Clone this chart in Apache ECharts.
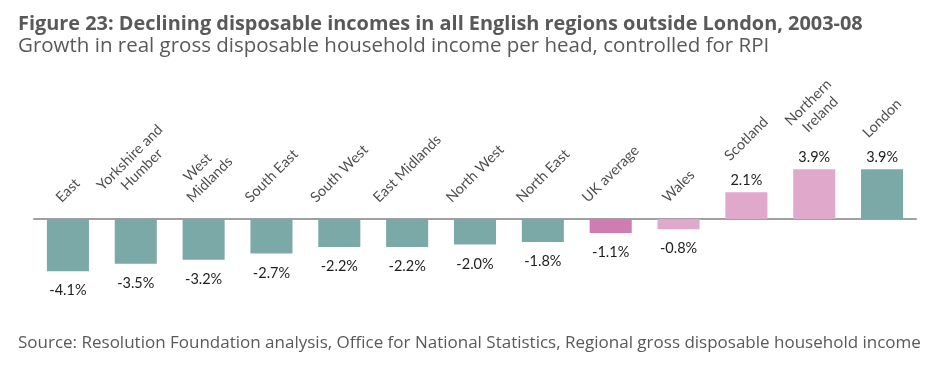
<!DOCTYPE html>
<html>
<head>
<meta charset="utf-8">
<script src="https://cdn.jsdelivr.net/npm/echarts@6/dist/echarts.min.js"></script>
<style>
  html, body { margin: 0; padding: 0; background: #ffffff; }
  #chart { width: 948px; height: 384px; }
</style>
</head>
<body>
<div id="chart"></div>
<script>
// ---- Data ----
const titleText = 'Figure 23: Declining disposable incomes in all English regions outside London, 2003-08';
const subtitleText = 'Growth in real gross disposable household income per head, controlled for RPI';
const sourceText = 'Source: Resolution Foundation analysis, Office for National Statistics, Regional gross disposable household income';

const categories = ['East', 'Yorkshire and\nHumber', 'West\nMidlands', 'South East', 'South West', 'East Midlands',
  'North West', 'North East', 'UK average', 'Wales', 'Scotland', 'Northern\nIreland', 'London'];
const growth = [-4.1, -3.5, -3.2, -2.7, -2.2, -2.2, -2.0, -1.8, -1.1, -0.8, 2.1, 3.9, 3.9];
const groups = ['England', 'England', 'England', 'England', 'England', 'England', 'England', 'England',
  'UK', 'Devolved', 'Devolved', 'Devolved', 'England'];

// ---- Styles ----
const groupColors = { England: '#7ba9a8', UK: '#d07bb1', Devolved: '#e0a9cb' };
const labelFont = 'Lato';
const labelSize = 14.5;
const labelLineHeight = 17;
const textDark = '#1e1e1e';
const textGrey = '#595959';
const headFont = 'Open Sans';

function rotatedHalfHeight(text) {
  const t = new echarts.graphic.Text({ style: { text: text, font: labelSize + 'px ' + labelFont, lineHeight: labelLineHeight } });
  const r = t.getBoundingRect();
  return (r.width + r.height) / (2 * Math.SQRT2);
}

const chart = echarts.init(document.getElementById('chart'), null, { renderer: 'canvas' });

const barData = growth.map((v, i) => ({
  value: v,
  itemStyle: { color: groupColors[groups[i]] },
  label: v < 0 ? { position: 'bottom', distance: 12 } : { position: 'top', distance: 4 }
}));

const nameData = growth.map((v, i) => ({
  value: Math.max(0, v),
  label: { position: [0.5, 0.5 - ((v < 0 ? 13 : 28) + rotatedHalfHeight(categories[i]))] }
}));

chart.setOption({
  animation: false,
  title: [
    { text: titleText, left: 13, top: 8,
      textStyle: { fontFamily: headFont, fontWeight: 'bold', fontSize: 19.9, color: textGrey, lineHeight: 22 } },
    { text: subtitleText, left: 13, top: 30,
      textStyle: { fontFamily: headFont, fontWeight: 'normal', fontSize: 20.5, color: textGrey, lineHeight: 22 } },
    { text: sourceText, left: 13, top: 329,
      textStyle: { fontFamily: headFont, fontWeight: 'normal', fontSize: 17, color: textGrey, lineHeight: 18 } }
  ],
  grid: { left: 34, right: 32, top: 155.25, bottom: 88.5, containLabel: false },
  xAxis: {
    type: 'category',
    data: categories,
    axisLine: { show: true, onZero: true, lineStyle: { color: '#a0a0a0', width: 2 } },
    axisTick: { show: false },
    axisLabel: { show: false },
    splitLine: { show: false }
  },
  yAxis: {
    type: 'value', min: -6, max: 5, show: false, splitLine: { show: false }
  },
  series: [
    {
      type: 'bar',
      data: barData,
      barWidth: '62%',
      z: 2,
      label: {
        show: true,
        fontFamily: labelFont, fontSize: labelSize, color: textDark,
        formatter: p => p.value.toFixed(1) + '%'
      }
    },
    {
      type: 'scatter',
      data: nameData,
      symbolSize: 1,
      itemStyle: { color: 'transparent' },
      silent: true,
      z: 3,
      label: {
        show: true,
        rotate: 45,
        align: 'center',
        verticalAlign: 'middle',
        fontFamily: labelFont, fontSize: labelSize, color: textDark,
        lineHeight: labelLineHeight,
        formatter: p => categories[p.dataIndex]
      }
    }
  ]
});
</script>
</body>
</html>
